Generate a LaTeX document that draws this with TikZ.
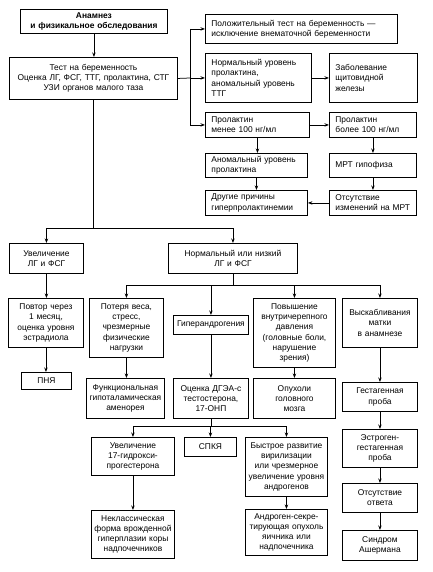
\documentclass[tikz,border=0pt]{standalone}
\usepackage{fontspec}
\setmainfont{Liberation Sans}
\usetikzlibrary{arrows.meta,calc}
\begin{document}
\begin{tikzpicture}[x=1pt,y=-1pt,
  bx/.style={draw, line width=0.9pt, anchor=north west, inner xsep=2pt, inner ysep=1pt, align=center, font=\fontsize{8.4}{10.2}\selectfont},
  lbx/.style={bx, inner xsep=6pt, align=left},
  ln/.style={line width=0.75pt},
  arr/.style={ln, -{Stealth[length=4.5pt,width=3.4pt]}}]
\useasboundingbox (0,0) rectangle (432,572);
% ---- top part
\node[bx, minimum width=147, minimum height=24, text width=143, font=\fontsize{8.4}{10.2}\selectfont\bfseries] (anam) at (20,9) {Анамнез\\и физикальное обследования};
\node[bx, minimum width=168, minimum height=42, text width=164] (test) at (9,57) {Тест на беременность\\Оценка ЛГ, ФСГ, ТТГ, пролактина, СТГ\\УЗИ органов малого таза};
\node[lbx, minimum width=192, minimum height=29, text width=180] (pos) at (205,14) {Положительный тест на беременность —\\исключение внематочной беременности};
\node[lbx, minimum width=106, minimum height=49, text width=94] (norm) at (205,53) {Нормальный уровень\\пролактина,\\аномальный уровень\\ТТГ};
\node[lbx, minimum width=88, minimum height=49, text width=76] (zab) at (329,53) {Заболевание\\щитовидной\\железы};
\node[lbx, minimum width=104, minimum height=25, text width=92] (men) at (205,112) {Пролактин\\менее 100 нг/мл};
\node[lbx, minimum width=87, minimum height=25, text width=75] (bol) at (329,112) {Пролактин\\более 100 нг/мл};
\node[lbx, minimum width=102, minimum height=24, text width=90] (anom) at (205,153) {Аномальный уровень\\пролактина};
\node[lbx, minimum width=87, minimum height=24, text width=75] (mrt) at (329,153) {МРТ гипофиза};
\node[lbx, minimum width=102, minimum height=25, text width=90] (drug) at (205,190) {Другие причины\\гиперпролактинемии};
\node[lbx, minimum width=87, minimum height=25, text width=75] (ots) at (329,190) {Отсутствие\\изменений на МРТ};
% ---- second level
\node[bx, minimum width=74, minimum height=30, text width=70] (uvel) at (9,243) {Увеличение\\ЛГ и ФСГ};
\node[bx, minimum width=129, minimum height=30, text width=125] (normn) at (168,243) {Нормальный или низкий\\ЛГ и ФСГ};
\node[bx, minimum width=75, minimum height=49, text width=71] (povt) at (8,298) {Повтор через\\1 месяц,\\оценка уровня\\эстрадиола};
\node[bx, minimum width=50, minimum height=17, text width=46] (pnya) at (21,372) {ПНЯ};
\node[bx, minimum width=74, minimum height=59, text width=70] (poter) at (89,298) {Потеря веса,\\стресс,\\чрезмерные\\физические\\нагрузки};
\node[bx, minimum width=75, minimum height=19, text width=71] (giper) at (173,315) {Гиперандрогения};
\node[bx, minimum width=82, minimum height=69, text width=78] (povysh) at (253,298) {Повышение\\внутричерепного\\давления\\(головные боли,\\нарушение\\зрения)};
\node[bx, minimum width=75, minimum height=49, text width=71] (vysk) at (342,298) {Выскабливания\\матки\\в анамнезе};
% ---- third level
\node[bx, minimum width=78, minimum height=40, text width=74] (func) at (86,378) {Функциональная\\гипоталамическая\\аменорея};
\node[bx, minimum width=75, minimum height=40, text width=71] (ocen) at (173,378) {Оценка ДГЭА-с\\тестостерона,\\17-ОНП};
\node[bx, minimum width=82, minimum height=40, text width=78] (opuh) at (253,378) {Опухоли\\головного\\мозга};
\node[bx, minimum width=75, minimum height=29, text width=71] (gest) at (342,382) {Гестагенная\\проба};
% ---- fourth level
\node[bx, minimum width=83, minimum height=38, text width=79] (uv17) at (91,437) {Увеличение\\17-гидрокси-\\прогестерона};
\node[bx, minimum width=52, minimum height=19, text width=48] (spkya) at (184,437) {СПКЯ};
\node[bx, minimum width=80, minimum height=59, text width=78] (bystr) at (245,437) {Быстрое развитие\\вирилизации\\или чрезмерное\\увеличение уровня\\андрогенов};
\node[bx, minimum width=75, minimum height=38, text width=71] (estr) at (342,429) {Эстроген-\\гестагенная\\проба};
\node[bx, minimum width=83, minimum height=48, text width=79] (nekl) at (91,510) {Неклассическая\\форма врожденной\\гиперплазии коры\\надпочечников};
\node[bx, minimum width=80, minimum height=46, text width=78] (andr) at (245,509) {Андроген-секре-\\тирующая опухоль\\яичника или\\надпочечника};
\node[bx, minimum width=75, minimum height=29, text width=71] (otsot) at (342,483) {Отсутствие\\ответа};
\node[bx, minimum width=75, minimum height=30, text width=71] (sind) at (342,530) {Синдром\\Ашермана};
% ---- connectors
\draw[arr] (anam.south) -- (anam.south |- test.north);
\coordinate (sp) at (190,78);
\draw[ln] (test.east) -- (sp);
\draw[ln] (sp |- pos.west) -- (sp |- men.west);
\draw[arr] (sp |- pos.west) -- (pos.west);
\draw[arr] (sp |- norm.west) -- (norm.west);
\draw[arr] (sp |- men.west) -- (men.west);
\draw[arr] (norm.east) -- (zab.west);
\draw[arr] (men.east) -- (bol.west);
\draw[arr] (men.south) -- (men.south |- anom.north);
\draw[arr] (anom.south) -- (anom.south |- drug.north);
\draw[arr] (bol.south) -- (bol.south |- mrt.north);
\draw[arr] (mrt.south) -- (mrt.south |- ots.north);
\draw[arr] (ots.west) -- (drug.east);
\coordinate (b1) at (93,228);
\draw[ln] (test.south) -- (test.south |- b1);
\draw[arr] (test.south |- b1) -| (uvel.north);
\draw[arr] (test.south |- b1) -| (normn.north);
\draw[arr] (uvel.south) -- (uvel.south |- povt.north);
\draw[arr] (povt.south) -- (povt.south |- pnya.north);
\coordinate (b2) at (232,285);
\draw[ln] (normn.south) -- (normn.south |- b2);
\draw[arr] (normn.south |- b2) -| (poter.north);
\draw[arr] (normn.south |- b2) -| (giper.north);
\draw[arr] (normn.south |- b2) -| (povysh.north);
\draw[arr] (normn.south |- b2) -| (vysk.north);
\draw[arr] (poter.south) -- (poter.south |- func.north);
\draw[arr] (giper.south) -- (giper.south |- ocen.north);
\draw[arr] (povysh.south) -- (povysh.south |- opuh.north);
\draw[arr] (vysk.south) -- (vysk.south |- gest.north);
\coordinate (b3) at (210,426);
\draw[ln] (ocen.south) -- (ocen.south |- b3);
\draw[arr] (ocen.south |- b3) -| (uv17.north);
\draw[arr] (ocen.south |- b3) -| (spkya.north);
\draw[arr] (ocen.south |- b3) -| (bystr.north);
\draw[arr] (uv17.south) -- (uv17.south |- nekl.north);
\draw[arr] (bystr.south) -- (bystr.south |- andr.north);
\draw[arr] (gest.south) -- (gest.south |- estr.north);
\draw[arr] (estr.south) -- (estr.south |- otsot.north);
\draw[arr] (otsot.south) -- (otsot.south |- sind.north);
\end{tikzpicture}
\end{document}
